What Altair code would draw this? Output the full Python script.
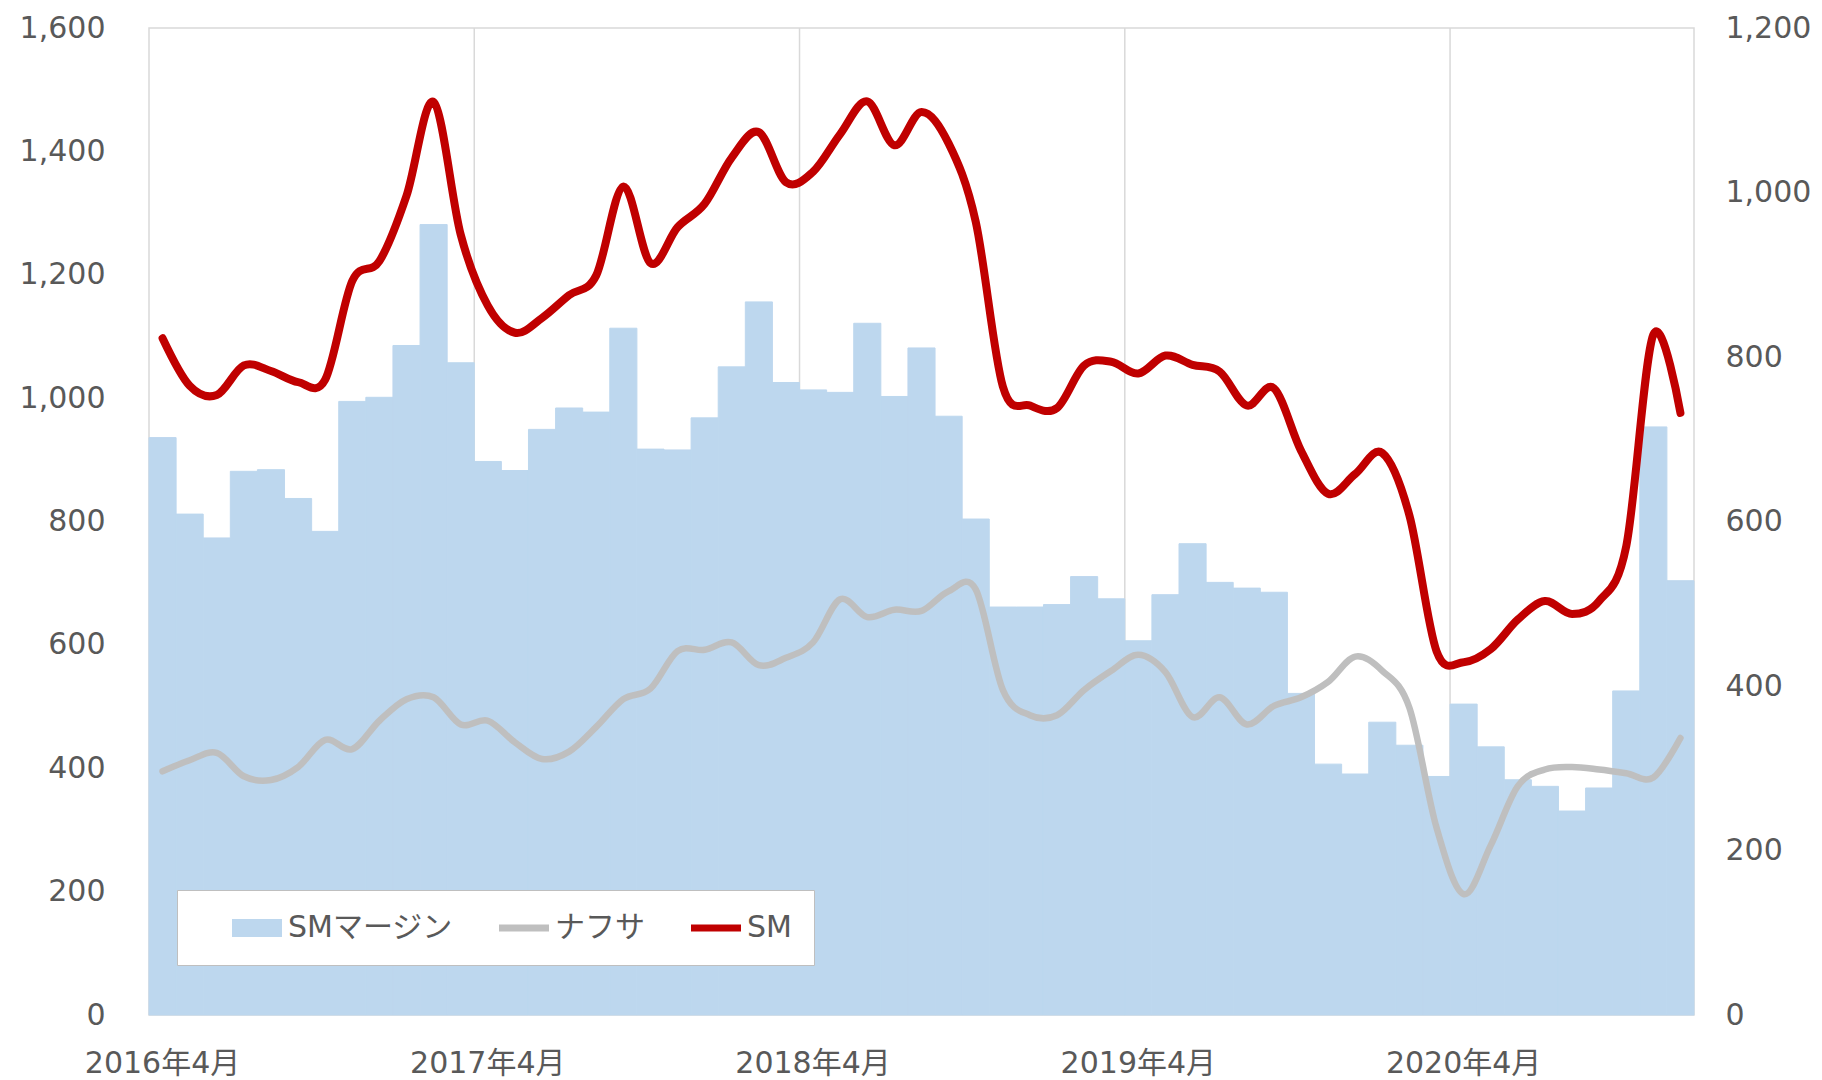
import altair as alt
import pandas as pd

FONT = "DejaVu Sans, Noto Sans CJK JP, sans-serif"
TEXT = "#595959"

# categories: monthly, 2016年4月 .. 2020年12月
months = []
yy, mm = 2016, 4
for _ in range(57):
    months.append(f"{yy}年{mm}月")
    mm += 1
    if mm > 12:
        mm = 1
        yy += 1

# SMマージン (right axis)
sm_margin = [702, 609, 580, 661, 663, 628, 588, 746, 751, 814, 961, 793,
             673, 662, 712, 738, 733, 835, 688, 687, 726, 788, 867, 769,
             760, 757, 841, 752, 811, 728, 603, 496, 496, 499, 533, 506,
             455, 511, 573, 526, 519, 514, 391, 305, 293, 356, 328, 290,
             378, 326, 286, 278, 248, 276, 394, 715, 528]

# ナフサ (left axis)
naphtha = [395, 413, 425, 387, 381, 402, 446, 431, 477, 512, 515, 471,
           477, 442, 415, 427, 467, 512, 529, 590, 592, 604, 567, 579,
           604, 674, 645, 657, 655, 687, 690, 527, 486, 486, 527, 558,
           584, 556, 483, 515, 471, 501, 515, 540, 581, 558, 498, 304,
           196, 275, 371, 398, 402, 398, 392, 385, 449]

# SM (left axis)
sm_price = [1097, 1020, 1005, 1053, 1044, 1026, 1030, 1190, 1222, 1328, 1480, 1265,
            1150, 1106, 1130, 1167, 1199, 1343, 1219, 1277, 1315, 1390, 1431, 1350,
            1367, 1428, 1481, 1410, 1464, 1413, 1286, 1019, 988, 984, 1053, 1059,
            1040, 1069, 1054, 1043, 988, 1016, 915, 845, 877, 911, 810, 590,
            572, 593, 641, 671, 650, 671, 760, 1103, 976]

label_months = ["2016年4月", "2017年4月", "2018年4月", "2019年4月", "2020年4月"]
grid_months = label_months[1:]
left_ticks = [0, 200, 400, 600, 800, 1000, 1200, 1400, 1600]
right_ticks = [0, 200, 400, 600, 800, 1000, 1200]
series_names = ["SMマージン", "ナフサ", "SM"]
series_colors = ["#BDD7EE", "#BFBFBF", "#C00000"]

bar_df = pd.DataFrame({"month": months, "value": sm_margin, "series": series_names[0]})
naph_df = pd.DataFrame({"month": months, "value": naphtha, "series": series_names[1]})
sm_df = pd.DataFrame({"month": months, "value": sm_price, "series": series_names[2]})
grid_df = pd.DataFrame({"month": grid_months})

x_scale = alt.Scale(domain=months, paddingInner=0, paddingOuter=0)
x_axis = alt.Axis(values=label_months, title=None, labelAngle=0, labelFont=FONT,
                  labelFontSize=30, labelColor=TEXT, labelPadding=33, ticks=False,
                  tickSize=0, domain=False, grid=False, labelOverlap=False)

left_axis = alt.Axis(orient="left", values=left_ticks, format=",d", title=None,
                     labelFont=FONT, labelFontSize=30, labelColor=TEXT, labelPadding=44,
                     ticks=False, tickSize=0, domain=False, grid=False)
right_axis = alt.Axis(orient="right", values=right_ticks, format=",d", title=None,
                      labelFont=FONT, labelFontSize=30, labelColor=TEXT, labelPadding=31,
                      ticks=False, tickSize=0, domain=False, grid=False)

common_leg = dict(orient="none", legendX=28, legendY=862, direction="horizontal",
                  title="\u2003", titleOrient="left", titleFontSize=30, titleFont=FONT,
                  titlePadding=42, padding=22, symbolSize=625, symbolStrokeWidth=7,
                  labelFont=FONT, labelFontSize=30, labelColor=TEXT, labelOffset=15,
                  labelLimit=0, columnPadding=32)

legA = alt.Legend(fillColor="white", strokeColor="#BFBFBF", symbolType="M-2,0H2",
                  zindex=1, **common_leg)
legB = alt.Legend(symbolType="M-2,-0.72H2V0.72H-2Z", symbolStrokeColor="transparent",
                  labelOpacity=0, zindex=2, **common_leg)

grid = alt.Chart(grid_df).mark_rule(color="#D9D9D9", strokeWidth=1.5).encode(
    x=alt.X("month:O", bandPosition=0, scale=x_scale, axis=x_axis),
    y=alt.value(0),
    y2=alt.value("height"),
)

bars = alt.Chart(bar_df).mark_bar(stroke="#BDD7EE", strokeWidth=1).encode(
    x=alt.X("month:O", scale=x_scale, axis=x_axis),
    y=alt.Y("value:Q", scale=alt.Scale(domain=[0, 1200], nice=False), axis=right_axis),
    fill=alt.Fill("series:N", scale=alt.Scale(domain=[series_names[0]], range=[series_colors[0]]),
                  legend=legB),
)

color_scale = alt.Scale(domain=series_names, range=series_colors)
y_left = alt.Y("value:Q", scale=alt.Scale(domain=[0, 1600], nice=False), axis=left_axis)

naph = alt.Chart(naph_df).mark_line(interpolate="cardinal", strokeWidth=6.5,
                                    strokeCap="round", strokeJoin="round").encode(
    x=alt.X("month:O", scale=x_scale, axis=x_axis),
    y=y_left,
    color=alt.Color("series:N", scale=color_scale, legend=legA),
)

smline = alt.Chart(sm_df).mark_line(interpolate="cardinal", strokeWidth=8,
                                    strokeCap="round", strokeJoin="round").encode(
    x=alt.X("month:O", scale=x_scale, axis=x_axis),
    y=y_left,
    color=alt.Color("series:N", scale=color_scale, legend=legA),
)

lines = alt.layer(naph, smline)

chart = alt.layer(grid, bars, lines).resolve_scale(y="independent").properties(
    width=1545, height=987,
    padding={"left": 11, "top": 5, "right": 0, "bottom": 0},
    background="white",
).configure_view(stroke="#D9D9D9", strokeWidth=1.5)

chart.save("out.html", embed_options={"renderer": "svg", "actions": False})
